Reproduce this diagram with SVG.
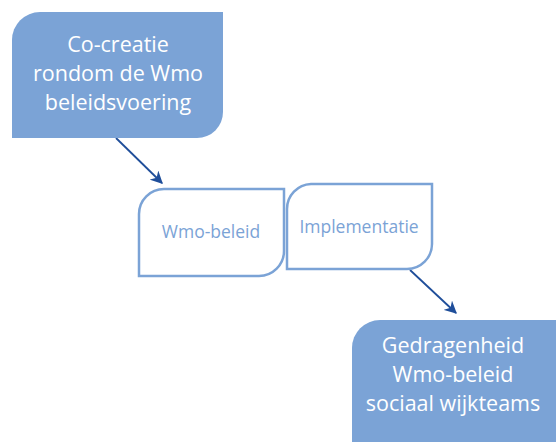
<svg xmlns="http://www.w3.org/2000/svg" width="556" height="442" viewBox="0 0 556 442">
<defs>
<style>
.fill{fill:#7BA3D6;}
.out{fill:#fff;stroke:#7BA3D6;stroke-width:2.5;}
.tw{fill:#fff;font-family:"Open Sans",sans-serif;font-size:21.5px;text-anchor:middle;}
.tb{fill:#7BA3D6;font-family:"Open Sans",sans-serif;font-size:17.5px;text-anchor:middle;}
.conn{stroke:#1F4E9A;stroke-width:1.8;fill:none;marker-end:url(#ah);}
</style>
<marker id="ah" viewBox="0 0 10 10" refX="9" refY="5" markerWidth="7" markerHeight="7" orient="auto" markerUnits="strokeWidth">
<path d="M0,0 L10,5 L0,10 L3,5 Z" fill="#1F4E9A"/>
</marker>
</defs>
<g id="connectors">
<line class="conn" x1="116" y1="138" x2="162" y2="183"/>
<line class="conn" x1="410" y1="270" x2="456" y2="313"/>
</g>
<g id="node1">
<path class="fill" d="M40,12 H223 V112 A26,26 0 0 1 197,138 H12 V40 A28,28 0 0 1 40,12 Z"/>
<text class="tw" x="118" y="52">Co-creatie</text>
<text class="tw" x="118" y="81">rondom de Wmo</text>
<text class="tw" x="118" y="110">beleidsvoering</text>
</g>
<g id="node2">
<path class="out" d="M164,189 H284 V251 A25,25 0 0 1 259,276 H139 V214 A25,25 0 0 1 164,189 Z"/>
<text class="tb" x="211" y="238">Wmo-beleid</text>
</g>
<g id="node3">
<path class="out" d="M311,184 H432 V244 A25,25 0 0 1 407,269 H287 V209 A25,25 0 0 1 311,184 Z"/>
<text class="tb" x="359" y="233">Implementatie</text>
</g>
<g id="node4">
<path class="fill" d="M380,320 H556 V446 H352 V348 A28,28 0 0 1 380,320 Z"/>
<text class="tw" x="453" y="353">Gedragenheid</text>
<text class="tw" x="453" y="382">Wmo-beleid</text>
<text class="tw" x="453" y="411">sociaal wijkteams</text>
</g>
</svg>
